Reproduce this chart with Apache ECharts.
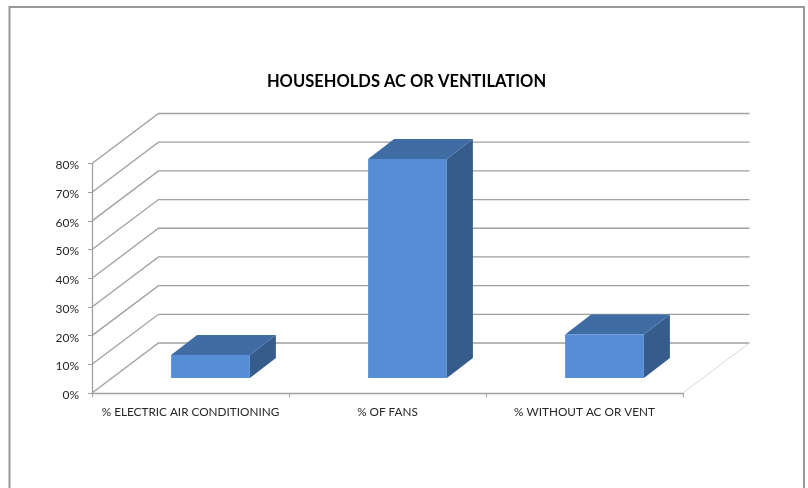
<!DOCTYPE html>
<html><head><meta charset="utf-8">
<style>html,body{margin:0;padding:0;background:#fff}#c{width:808px;height:488px}</style>
<script src="https://cdn.jsdelivr.net/npm/echarts@6/dist/echarts.min.js"></script>
</head><body><div id="c"></div>
<script>
const categories = ['% ELECTRIC AIR CONDITIONING', '% OF FANS', '% WITHOUT AC OR VENT'];
const shareValues = [8, 76.3, 15.2];
const wallTicks = [0, 10, 20, 30, 40, 50, 60, 70, 80];

// 3D projection styling: how far walls recede, and where bars sit on the floor
const wallDepth = [66.5, -50];
const barInset = [20, -15];
const barDepth = [26, -20];
const colors = { front: '#558ED5', top: '#3F6CA3', side: '#355C8A', grid: '#A0A0A0', floor: '#D9D9D9', axis: '#A0A0A0', text: '#262626' };

const chart = echarts.init(document.getElementById('c'), null, { renderer: 'canvas' });

function renderWall(params, api) {
  const v = api.value(0);
  const cs = params.coordSys;
  const y = api.coord([0, v])[1];
  const left = cs.x, right = cs.x + cs.width;
  const bx = left + wallDepth[0], by = y + wallDepth[1], ex = right + wallDepth[0];
  const children = [
    { type: 'polyline', shape: { points: [[left, y], [bx, by], [ex, by]] }, style: { fill: null, stroke: colors.grid, lineWidth: 1.3 } }
  ];
  if (v === 0) {
    children.push({ type: 'line', shape: { x1: right, y1: y, x2: ex, y2: by }, style: { stroke: colors.floor, lineWidth: 1 } });
  }
  return { type: 'group', children };
}

function renderBar(params, api) {
  const i = api.value(0);
  const base = api.coord([i, 0]);
  const head = api.coord([i, api.value(1)]);
  const w = api.size([1, 0])[0] * 0.4;
  const x0 = base[0] + barInset[0] - w / 2, x1 = x0 + w;
  const yB = base[1] + barInset[1], yT = head[1] + barInset[1];
  const dx = barDepth[0], dy = barDepth[1];
  return {
    type: 'group',
    children: [
      { type: 'polygon', shape: { points: [[x1, yB], [x1 + dx, yB + dy], [x1 + dx, yT + dy], [x1, yT]] }, style: { fill: colors.side } },
      { type: 'polygon', shape: { points: [[x0, yT], [x1, yT], [x1 + dx, yT + dy], [x0 + dx, yT + dy]] }, style: { fill: colors.top } },
      { type: 'rect', shape: { x: x0, y: yT, width: w, height: yB - yT }, style: { fill: colors.front } }
    ]
  };
}

chart.setOption({
  animation: false,
  backgroundColor: '#ffffff',
  title: {
    text: 'HOUSEHOLDS AC OR VENTILATION',
    left: 401.5, top: 68, textAlign: 'center',
    textStyle: { fontFamily: 'Lato', fontWeight: 'bold', fontSize: 16.5, color: '#000000' }
  },
  graphic: [{
    type: 'polyline', silent: true,
    shape: { points: [[9.5, 488], [9.5, 7], [804, 7], [804, 488]] },
    style: { fill: null, stroke: '#999999', lineWidth: 2 }
  }],
  grid: { left: 92, right: 125, top: 163.5, bottom: 95 },
  xAxis: {
    type: 'category', data: categories,
    axisLine: { lineStyle: { color: colors.axis, width: 1.3 } },
    axisTick: { show: true, alignWithInterval: true, length: 4, lineStyle: { color: colors.axis } },
    axisLabel: { margin: 13, interval: 0, fontFamily: 'Lato', fontSize: 11.75, color: colors.text },
    splitLine: { show: false }
  },
  yAxis: {
    type: 'value', min: 0, max: 80, interval: 10,
    axisLine: { show: true, lineStyle: { color: colors.axis, width: 1.3 } },
    axisTick: { show: true, length: 4, lineStyle: { color: colors.axis } },
    axisLabel: {
      margin: 13,
      formatter: '{v|{value}%}',
      rich: { v: { fontFamily: 'Lato', fontSize: 12, color: colors.text, padding: [4, 0, 0, 0] } }
    },
    splitLine: { show: false }
  },
  series: [
    { type: 'custom', name: 'walls', silent: true, clip: false, renderItem: renderWall, encode: { y: 0 }, data: wallTicks.map(v => [v]), z: 1 },
    { type: 'custom', name: 'share', clip: false, renderItem: renderBar, encode: { x: 0, y: 1 }, data: shareValues.map((v, i) => [i, v]), z: 3 }
  ]
});
</script></body></html>
